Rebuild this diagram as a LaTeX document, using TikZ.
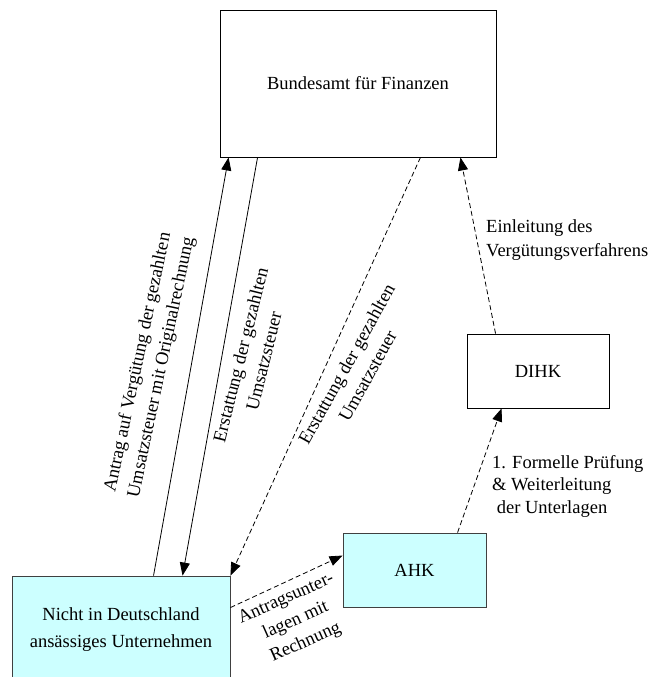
\documentclass[tikz,border=0pt]{standalone}
\usepackage{fontspec}
\setmainfont{Liberation Serif}
\usetikzlibrary{arrows.meta}
\definecolor{lightcyan}{HTML}{CCFFFF}
\begin{document}
\begin{tikzpicture}[x=1pt,y=-1pt,
  box/.style={draw=black, line width=0.9pt, inner sep=0pt, align=center, font=\fontsize{18.5}{27}\selectfont},
  cyanbox/.style={box, fill=lightcyan, draw=black!75},
  lbl/.style={inner sep=0pt, align=center, font=\fontsize{18.5}{24}\selectfont},
  arr/.style={line width=0.8pt, -{Triangle[length=13pt,width=10pt]}},
  dsh/.style={arr, dash pattern=on 5pt off 3pt}]
\useasboundingbox (0,0) rectangle (656,677);
\begin{scope}
\clip (0,0) rectangle (656,677);
\node[box, minimum width=276pt, minimum height=147pt] (bff) at (358,83.5) {Bundesamt für Finanzen};
\node[box, minimum width=142pt, minimum height=74pt] (dihk) at (538,371) {DIHK};
\node[cyanbox, minimum width=143pt, minimum height=74pt] (ahk) at (414.5,570) {AHK};
\node[cyanbox, minimum width=218pt, minimum height=108pt] (co) at (121,630) {Nicht in Deutschland\\ansässiges Unternehmen};
\end{scope}

\draw[arr] ([xshift=142pt]co.north west) -- ([xshift=9pt]bff.south west);
\draw[arr] ([xshift=38pt]bff.south west) -- ([xshift=171pt]co.north west);
\draw[dsh] ([xshift=-76pt]bff.south east) -- (co.north east);
\draw[dsh] ([xshift=29pt]dihk.north west) -- ([xshift=-36pt]bff.south east);
\draw[dsh] ([xshift=115pt]ahk.north west) -- ([xshift=35pt]dihk.south west);
\draw[dsh] ([yshift=-32pt]co.north east) -- ([yshift=-23pt]ahk.north west);

\node[lbl, rotate=78] (l1) at (150,365) {Antrag auf Vergütung der gezahlten\\Umsatzsteuer mit Originalrechnung};
\node[lbl, rotate=76] (l2) at (252,358) {Erstattung der gezahlten\\Umsatzsteuer};
\node[lbl, rotate=61] (l3) at (357,370) {Erstattung der gezahlten\\Umsatzsteuer};
\node[lbl, rotate=24] (l4) at (296,621) {Antragsunter-\\lagen mit\\Rechnung};
\node[lbl, align=left, anchor=west] (l5) at (486,240) {Einleitung des\\Vergütungsverfahrens};
\node[lbl, align=left, anchor=west, font=\fontsize{18.5}{22.5}\selectfont] (l6) at (492,486) {1. Formelle Prüfung\\\& Weiterleitung\\\ der Unterlagen};
\end{tikzpicture}
\end{document}
